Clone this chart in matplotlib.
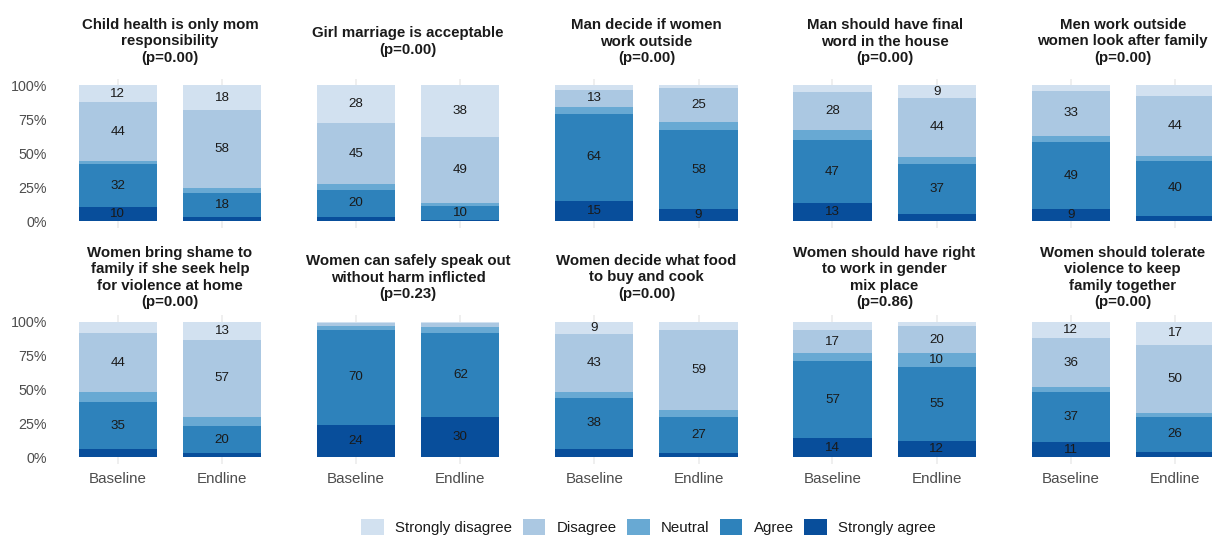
import matplotlib
matplotlib.use("Agg")
import matplotlib.pyplot as plt
from matplotlib.patches import Patch

plt.rcParams['font.family'] = ['Liberation Sans', 'DejaVu Sans']

# Survey statements (wrapped as displayed) and test p-values
items = [
    "Child health is only mom\nresponsibility",
    "Girl marriage is acceptable",
    "Man decide if women\nwork outside",
    "Man should have final\nword in the house",
    "Men work outside\nwomen look after family",
    "Women bring shame to\nfamily if she seek help\nfor violence at home",
    "Women can safely speak out\nwithout harm inflicted",
    "Women decide what food\nto buy and cook",
    "Women should have right\nto work in gender\nmix place",
    "Women should tolerate\nviolence to keep\nfamily together",
]
p_values = ["0.00", "0.00", "0.00", "0.00", "0.00",
            "0.00", "0.23", "0.00", "0.86", "0.00"]
periods = ["Baseline", "Endline"]

# Percent of respondents per statement: (Baseline, Endline)
strongly_agree = [(10, 3), (3, 1), (15, 9), (13, 5), (9, 4),
                  (6, 3), (24, 30), (6, 3), (14, 12), (11, 4)]
agree = [(32, 18), (20, 10), (64, 58), (47, 37), (49, 40),
         (35, 20), (70, 62), (38, 27), (57, 55), (37, 26)]
neutral = [(2, 3), (4, 2), (5, 6), (7, 5), (5, 4),
           (7, 7), (3, 4), (4, 5), (6, 10), (4, 3)]
disagree = [(44, 58), (45, 49), (13, 25), (28, 44), (33, 44),
            (44, 57), (2, 3), (43, 59), (17, 20), (36, 50)]
strongly_disagree = [(12, 18), (28, 38), (3, 2), (5, 9), (4, 8),
                     (8, 13), (1, 1), (9, 6), (6, 3), (12, 17)]

responses = ["Strongly disagree", "Disagree", "Neutral", "Agree", "Strongly agree"]
colors = ["#d2e1f0", "#abc8e2", "#68a9d3", "#2e82bb", "#084e9b"]

# stacking order from the bottom of each bar
stack = [
    (strongly_agree, colors[4]),
    (agree, colors[3]),
    (neutral, colors[2]),
    (disagree, colors[1]),
    (strongly_disagree, colors[0]),
]

W, H = 1212, 536
fig = plt.figure(figsize=(W / 100, H / 100), dpi=100)

col_step = 238.2
first_center = 170
panel_w = 229.5
rows = [(78.7, 227.8, 41.5), (315.2, 464.1, 277.5)]  # top, bottom, title centre (px)

x_pos = [1, 2]
for k in range(10):
    r, c = divmod(k, 5)
    top, bottom, title_y = rows[r]
    cx = first_center + col_step * c
    left = cx - panel_w / 2
    ax = fig.add_axes([left / W, 1 - bottom / H, panel_w / W, (bottom - top) / H])
    ax.set_xlim(0.4, 2.6)
    ax.set_ylim(-5, 105)
    for x in x_pos:
        ax.axvline(x, color="#ebebeb", lw=1.1, zorder=0)
    for j, x in enumerate(x_pos):
        base = 0
        for series, col in stack:
            v = series[k][j]
            ax.bar(x, v, bottom=base, width=0.75, color=col, linewidth=0, zorder=2)
            if v >= 9:
                ax.text(x, base + v / 2, f"{v}", ha="center", va="center",
                        fontsize=9.6, color="#1a1a1a", zorder=3)
            base += v
    for s in ax.spines.values():
        s.set_visible(False)
    ax.tick_params(length=0)
    ax.set_xticks(x_pos)
    if r == 1:
        ax.set_xticklabels(periods, fontsize=10.9, color="#4d4d4d")
        ax.tick_params(axis="x", pad=6)
    else:
        ax.set_xticklabels([])
    ax.set_yticks([0, 25, 50, 75, 100])
    if c == 0:
        ax.set_yticklabels(["0%", "25%", "50%", "75%", "100%"], fontsize=10.3,
                           color="#4d4d4d")
        ax.tick_params(axis="y", pad=6)
    else:
        ax.set_yticklabels([])
    fig.text(cx / W, 1 - title_y / H, f"{items[k]}\n(p={p_values[k]})",
             ha="center", va="center", fontsize=10.8, fontweight="bold",
             color="#1a1a1a", linespacing=1.22)

handles = [Patch(facecolor=col, edgecolor="none") for col in colors]
fig.legend(handles, responses, loc="center", bbox_to_anchor=(648.5 / W, 1 - 527 / H),
           ncol=5, frameon=False, fontsize=10.8, handlelength=1.5, handleheight=1.3,
           handletextpad=0.75, columnspacing=0.7, labelcolor="#1a1a1a")

fig.savefig("out.png", dpi=100)
